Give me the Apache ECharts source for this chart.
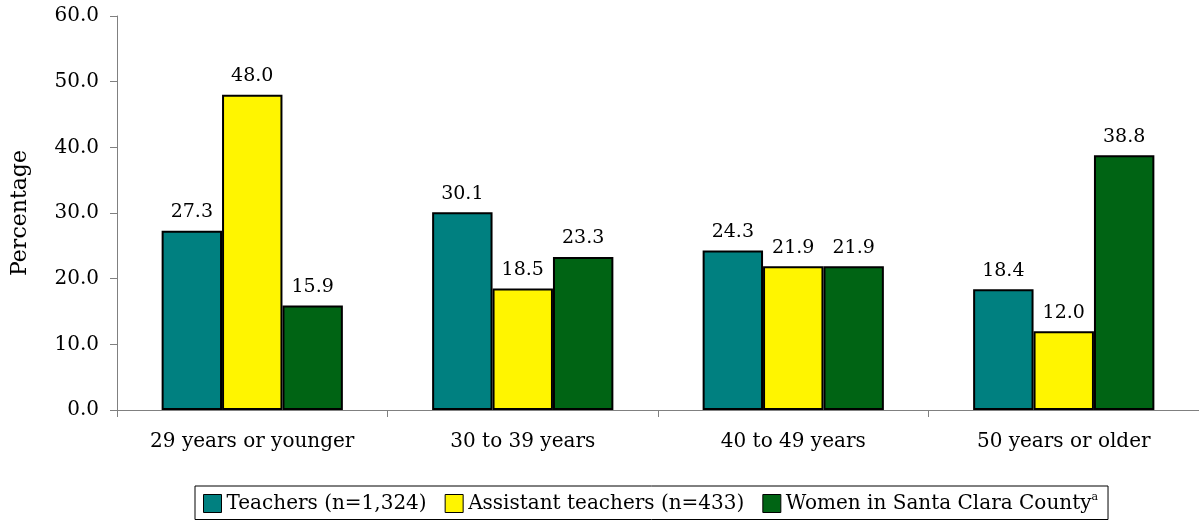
<!DOCTYPE html>
<html><head><meta charset="utf-8">
<script src="https://cdn.jsdelivr.net/npm/echarts@6/dist/echarts.min.js"></script>
<style>html,body{margin:0;padding:0;background:#fff}#c{width:1199px;height:523px}</style>
</head><body><div id="c"></div>
<script>
var categories = ['29 years or younger', '30 to 39 years', '40 to 49 years', '50 years or older'];
var teachers = [27.3, 30.1, 24.3, 18.4];
var assistants = [48.0, 18.5, 21.9, 12.0];
var women = [15.9, 23.3, 21.9, 38.8];
var seriesNames = ['Teachers (n=1,324)', 'Assistant teachers (n=433)', 'Women in Santa Clara County'];
var yTicks = { min: 0, max: 60, interval: 10 };

var FONT = 'DejaVu Serif';
var chart = echarts.init(document.getElementById('c'));
function mk(name, data, color) {
  return {
    name: name, type: 'bar', data: data, barGap: '0%', barCategoryGap: '33%',
    itemStyle: { color: color, borderColor: '#000', borderWidth: 2 },
    label: { show: true, position: 'top', distance: 9, color: '#000', fontFamily: FONT, fontSize: 19,
      formatter: function (p) { return p.value.toFixed(1); } }
  };
}
chart.setOption({
  animation: false,
  textStyle: { fontFamily: FONT },
  grid: { left: 117, right: 0, top: 16, bottom: 113, containLabel: false },
  xAxis: {
    type: 'category', data: categories,
    axisLine: { lineStyle: { color: '#808080', width: 1 } },
    axisTick: { show: true, length: 7, lineStyle: { color: '#808080' } },
    axisLabel: { color: '#000', fontFamily: FONT, fontSize: 20, margin: 22 }
  },
  yAxis: {
    type: 'value', min: yTicks.min, max: yTicks.max, interval: yTicks.interval,
    name: 'Percentage', nameLocation: 'middle', nameGap: 86, nameRotate: 90,
    nameTextStyle: { color: '#000', fontFamily: FONT, fontSize: 22 },
    axisLine: { show: true, lineStyle: { color: '#808080', width: 1 } },
    axisTick: { show: true, length: 7, lineStyle: { color: '#808080' } },
    splitLine: { show: false },
    axisLabel: { color: '#000', fontFamily: FONT, fontSize: 20, margin: 18,
      formatter: function (v) { return v.toFixed(1); } }
  },
  legend: {
    left: 195, top: 486, padding: [6, 10, 6, 8], itemGap: 18,
    itemWidth: 18, itemHeight: 18, icon: 'rect',
    borderColor: '#000', borderWidth: 1,
    itemStyle: { borderColor: '#000', borderWidth: 1 },
    textStyle: { color: '#000', fontFamily: FONT, fontSize: 20,
      rich: { sup: { fontSize: 11, verticalAlign: 'top', padding: [0, 0, 12, 0], fontFamily: FONT } } },
    formatter: function (n) { return n === seriesNames[2] ? n + '{sup|a}' : n; },
    data: seriesNames
  },
  series: [mk(seriesNames[0], teachers, '#008080'), mk(seriesNames[1], assistants, '#FFF500'), mk(seriesNames[2], women, '#006414')]
});
</script></body></html>
